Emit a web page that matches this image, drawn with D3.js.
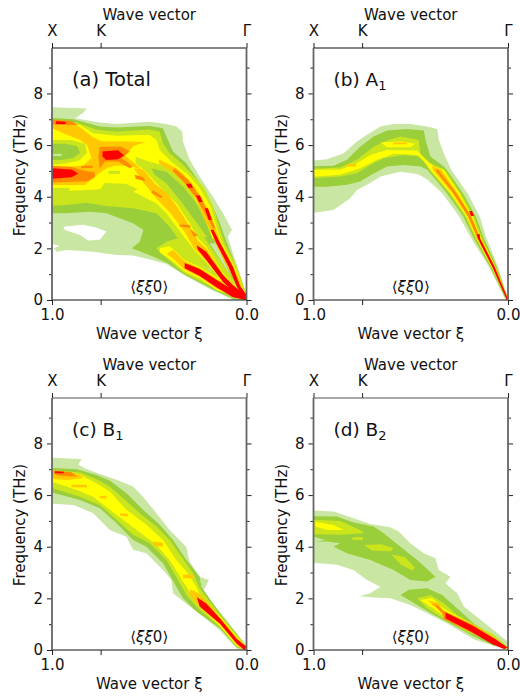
<!DOCTYPE html>
<meta charset="utf-8">
<head>
    <title>Phonon spectral functions</title>
    <script type="text/javascript" src="https://d3js.org/d3.v7.min.js"></script>
    <style>
        body { margin: 0; background: #fff; }
        text { font-family: "DejaVu Sans", sans-serif; fill: #111; }
    </style>
</head>
<body>
<script type="text/javascript">
    // level colours, palest first (white is only used for the hole in panel a)
    var levelColors = ["#ffffff", "#c9e7a2", "#9bce3a", "#cbe51e", "#ffff00", "#ffc800", "#ff8a00", "#ff0000"];

    var majorFreq = [0, 2, 4, 6, 8];
    var minorFreq = [1, 3, 5, 7, 9];
    var topTicks = [1, 0.75, 0];
    var topLabels = ["X", "K", "\u0393"];
    var bottomTicks = [1, 0.75, 0];
    var bottomLabels = ["1.0", "", "0.0"];

    // contour outlines below are [xi, THz]

    // (a) Total
    var aLight = [[[1,7.47],[.82,7.42],[.84,7.25],[.88,7.04],[.754,6.87],[.668,6.82],[.5,6.9],[.412,6.82],[.36,6.72],[.33,6.52],[.327,6.14],[.292,5.43],[.241,4.78],[.173,4],[.12,3.36],[.075,2.71],[.096,2.45],[.053,1.42],[0,.25],[0,0],[.07,.02],[.173,.36],[.31,.92],[.41,1.38],[.5,1.58],[.583,1.72],[.668,1.74],[.788,1.87],[.926,1.94],[.976,1.87],[.99,2],[.96,2.1],[.99,2.15],[1,2.2]]];
    var aHole = [[[.942,2.84],[.839,2.91],[.771,2.8],[.72,2.65],[.754,2.33],[.814,2.3],[.856,2.52],[.933,2.71]]];
    var aGreen = [[[1,7.05],[.89,7],[.754,6.72],[.668,6.68],[.5,6.74],[.43,6.65],[.412,6.33],[.378,5.75],[.31,5.3],[.25,4.65],[.2,4],[.15,3.23],[.1,2.2],[.045,1.16],[0,.13],[0,0],[.07,.05],[.173,.42],[.318,.98],[.412,1.45],[.5,1.74],[.59,2],[.549,2.26],[.53,2.71],[.583,2.97],[.72,3.36],[.805,3.42],[.926,3.36],[1,3.36]]];
    var aLime = [[[1,6.95],[.873,6.87],[.77,6.59],[.668,6.52],[.5,6.6],[.446,6.52],[.43,6.07],[.395,5.68],[.335,5.3],[.284,4.9],[.22,4.39],[.17,3.6],[.135,2.71],[.112,2.2],[.05,1.3],[0,.19],[0,0],[.07,.08],[.173,.48],[.318,1.03],[.378,1.4],[.43,1.74],[.463,2],[.412,2.26],[.353,2.39],[.395,2.84],[.463,3.36],[.583,3.55],[.72,3.64],[.822,3.77],[.925,3.68],[1,3.65]]];
    var aYellow = [
        [[1,6.92],[.855,6.78],[.79,6.46],[.668,6.36],[.5,6.4],[.463,6.2],[.446,5.8],[.378,5.3],[.3,4.85],[.24,4.33],[.185,3.62],[.15,2.71],[.125,2.2],[.062,1.3],[0,.13],[.036,.45],[.105,1.3],[.164,2.2],[.18,2.45],[.222,3.36],[.27,4],[.31,4.52],[.36,4.85],[.43,5.23],[.5,5.35],[.57,5.55],[.57,5.3],[.52,5],[.472,4.6],[.43,4.26],[.36,3.75],[.292,2.97],[.25,2.4],[.207,2.07],[.121,1.06],[.036,.3],[.05,.2],[.121,.65],[.207,1.48],[.258,1.85],[.31,2.33],[.36,2.84],[.412,3.36],[.463,3.75],[.53,4],[.583,4.2],[.685,4.33],[.82,4.26],[1,4.2]],
        [[0,.02],[.155,.39],[.241,.84],[.318,1.1],[.38,1.5],[.446,1.85],[.446,2],[.395,2.09],[.318,1.55],[.241,1.29],[.155,.88],[0,.19]]
    ];
    var aLimeSpots = [
        [[1,6.2],[.9,6.2],[.83,6.05],[.82,5.7],[.86,5.4],[.94,5.28],[1,5.25]],
        [[.73,4.53],[.62,4.5],[.56,4.3],[.6,4.1],[.7,4.08],[.75,4.3]],
        [[1,4.34],[.91,4.34],[.91,4.19],[1,4.19]],
        [[.71,5],[.65,5],[.65,4.88],[.71,4.88]]
    ];
    var aGreenSpots = [
        [[1,6.05],[.93,6.05],[.87,5.95],[.855,5.7],[.89,5.5],[.95,5.42],[1,5.42]],
        [[.489,5.1],[.412,4.97],[.326,4.39],[.258,3.75],[.207,2.97],[.173,2.33],[.19,2.3],[.241,2.84],[.292,3.36],[.344,3.88],[.412,4.52],[.472,4.85]],
        [[.22,2.45],[.15,2.35],[.06,.7]],
        [[.25,1.6],[.13,.85],[.2,1.25]]
    ];
    var aLightSpots = [
        [[.19,2.2],[.155,2.2],[.078,.89]],
        [[.215,1.36],[.17,1.09],[.19,1.15]],
        [[1,5.66],[.95,5.66],[.95,5.58],[1,5.58]]
    ];
    var aGold = [
        [[1,6.98],[.906,6.91],[.848,6.65],[.79,6.3],[.745,6.15],[.6,6.14],[.52,6.12],[.58,5.96],[.625,5.6],[.56,5.2],[.54,5.05],[.6,5.2],[.68,5.2],[.72,5.1],[.76,4.9],[.79,4.7],[.83,4.45],[1,4.45],[1,5.15],[.84,5.2],[.797,5.5],[.82,6],[.856,6.2],[.94,6.45],[1,6.65]],
        [[.53,5.05],[.47,4.5],[.41,4.15],[.36,3.65],[.3,2.95],[.25,2.3],[.207,2],[.121,1.02],[.03,.2],[0,.1],[.03,.1],[.121,.68],[.207,1.52],[.27,2],[.32,2.65],[.39,3.35],[.46,3.9],[.53,4.55],[.58,5.1]],
        [[.45,5.45],[.36,5.1],[.3,4.7],[.24,4.1],[.185,3.35],[.145,2.5],[.13,2.2],[.066,1.29],[0,.1],[.03,.35],[.1,1.29],[.16,2.2],[.175,2.5],[.22,3.2],[.26,3.95],[.33,4.6],[.37,4.9],[.45,5.3]],
        [[0,.05],[.155,.45],[.241,.9],[.318,1.17],[.37,1.55],[.41,1.8],[.378,1.94],[.318,1.5],[.241,1.24],[.155,.83],[0,.15]]
    ];
    var aOrange = [
        [[1,6.98],[.9,6.93],[.87,6.78],[.95,6.78],[1,6.8]],
        [[.754,5.94],[.642,5.94],[.6,5.75],[.642,5.49],[.584,5.17],[.6,5.1],[.66,5.36],[.728,5.36],[.754,5.1],[.762,5.55]],
        [[1,5.2],[.9,5.15],[.83,5],[.78,4.95],[.78,4.75],[.82,4.6],[1,4.55]],
        [[.85,5.2],[.79,5.2],[.79,5.12],[.85,5.1]],
        [[.575,4.85],[.53,4.75],[.52,4.6],[.57,4.7]],
        [[.48,4.25],[.43,4],[.44,3.95],[.49,4.15]],
        [[.345,2.92],[.29,2.9],[.29,2.8],[.345,2.85]],
        [[.29,2.72],[.27,2.45],[.25,2.5],[.28,2.7]],
        [[.37,5.1],[.3,4.65],[.24,4],[.19,3.3],[.16,2.8],[.17,2.75],[.21,3.3],[.26,3.95],[.32,4.55],[.38,5]]
    ];
    var aRed = [
        [[.98,6.92],[.93,6.9],[.93,6.82],[.98,6.82]],
        [[.74,5.75],[.66,5.8],[.63,5.6],[.66,5.45],[.72,5.42],[.74,5.55]],
        [[1,5.1],[.9,5.05],[.865,4.9],[.9,4.75],[1,4.7]],
        [[0,.2],[.032,.52],[.07,1.29],[.135,2.2],[.17,2.72],[.185,2.72],[.155,2.2],[.092,1.29],[.05,.52],[.01,0],[0,0]],
        [[.215,3.55],[.198,3.55],[.178,3.1],[.195,3.1]],
        [[.26,4.05],[.24,4.05],[.225,3.8],[.245,3.8]],
        [[.31,4.5],[.285,4.5],[.275,4.35],[.3,4.35]],
        [[.256,2.12],[.207,1.87],[.121,.97],[.07,.58],[0,.15],[0,0],[.07,.32],[.121,.71],[.207,1.55],[.25,1.95]],
        [[.318,1.43],[.241,1.2],[.155,.78],[.07,.39],[0,.1],[0,0],[.07,.11],[.155,.49],[.241,.93],[.318,1.23]]
    ];

    // (b) A1
    var bLight = [[[1,5.4],[.931,5.45],[.845,5.68],[.777,6.14],[.725,6.4],[.656,6.72],[.588,6.82],[.5,6.82],[.416,6.72],[.364,6.62],[.355,6.2],[.33,5.68],[.292,5.04],[.208,4.13],[.145,3.23],[.111,2.39],[.051,1.29],[0,.06],[0,0],[.012,0],[.099,1.29],[.189,2.39],[.251,3.23],[.338,4.13],[.42,4.7],[.467,4.88],[.553,4.97],[.656,4.78],[.725,4.46],[.777,4.26],[.811,3.94],[.897,3.49],[1,3.38]]];
    var bGreen = [[[1,5.18],[.897,5.2],[.828,5.43],[.76,5.94],[.691,6.33],[.622,6.56],[.519,6.62],[.433,6.56],[.424,6.2],[.399,5.56],[.33,5.17],[.315,5.04],[.232,4.13],[.166,3.23],[.124,2.39],[.058,1.29],[0,.02],[.017,.13],[.092,1.29],[.176,2.39],[.23,3.23],[.314,4.13],[.415,5.04],[.45,5.17],[.536,5.23],[.622,5.17],[.691,4.9],[.76,4.59],[.828,4.46],[.931,4.39],[1,4.39]]];
    var bLime = [[[1,5.08],[.863,5.13],[.777,5.43],[.691,5.94],[.622,6.18],[.553,6.33],[.459,6.2],[.45,5.68],[.399,5.3],[.325,5.04],[.243,4.13],[.175,3.23],[.133,2.39],[.063,1.29],[0,.03],[.007,.06],[.087,1.29],[.167,2.39],[.221,3.23],[.303,4.13],[.405,5.04],[.45,5.56],[.536,5.62],[.639,5.49],[.708,5.23],[.777,4.91],[.863,4.78],[1,4.72]]];
    var bYellow = [
        [[1,5.04],[.863,5.04],[.777,5.3],[.708,5.62],[.622,5.81],[.467,5.79],[.433,5.49],[.381,5.17],[.331,5.04],[.251,4.13],[.183,3.23],[.138,2.39],[.066,1.29],[0,.03],[.03,.4],[.084,1.29],[.162,2.39],[.213,3.23],[.295,4.13],[.399,5.04],[.43,5.35],[.467,5.62],[.588,5.66],[.674,5.43],[.76,5.1],[.863,4.85],[1,4.78]],
        [[.656,6.1],[.55,6.14],[.476,6.05],[.5,5.92],[.62,5.92]]
    ];
    var bGold = [
        [[.39,5.2],[.343,5.04],[.26,4.13],[.188,3.23],[.141,2.39],[.068,1.29],[0,.04],[.01,.1],[.082,1.29],[.159,2.39],[.208,3.23],[.286,4.13],[.387,5.04]],
        [[.59,6.1],[.52,6.1],[.52,6.03],[.59,6.03]],
        [[.83,5.25],[.78,5.27],[.78,5.17],[.83,5.17]]
    ];
    var bOrange = [[[.36,5.04],[.265,4.13],[.19,3.23],[.143,2.39],[.157,2.39],[.205,3.23],[.28,4.13],[.375,5.04]]];
    var bRed = [
        [[.145,2.55],[.144,2.39],[.069,1.29],[0,.04],[.006,0],[.081,1.29],[.156,2.39],[.16,2.55]],
        [[.2,3.45],[.185,3.45],[.175,3.25],[.19,3.25]]
    ];

    // (c) B1
    var cLight = [[[1,7.45],[.848,7.4],[.865,7.17],[.82,7],[.754,6.82],[.668,6.59],[.583,6.33],[.532,5.94],[.463,5.3],[.395,4.65],[.31,4],[.292,3.42],[.241,2.84],[.193,2.71],[.224,2.26],[.136,1.48],[.05,.65],[0,.19],[0,0],[.05,.05],[.136,.76],[.222,1.3],[.292,1.68],[.378,2.2],[.386,2.71],[.429,3.1],[.515,3.75],[.583,3.88],[.617,4.39],[.703,4.65],[.788,5.3],[.89,5.62],[1,5.66]]];
    var cGreen = [[[1,7.05],[.873,7],[.771,6.78],[.703,6.56],[.617,6.07],[.532,5.43],[.446,4.85],[.378,4.26],[.309,3.49],[.241,2.84],[.232,2.45],[.136,1.41],[.05,.62],[0,.1],[0,0],[.05,.1],[.136,.83],[.258,1.49],[.326,2],[.361,2.45],[.429,3.36],[.515,4],[.583,4.26],[.668,4.91],[.754,5.49],[.856,5.81],[1,6.1]]];
    var cLime = [[[1,6.97],[.856,6.87],[.771,6.61],[.703,6.33],[.634,5.88],[.549,5.3],[.463,4.78],[.395,4.26],[.335,3.62],[.275,2.97],[.241,2.39],[.136,1.35],[.05,.58],[0,.13],[0,.02],[.05,.12],[.136,.89],[.25,1.61],[.309,2.13],[.352,2.71],[.412,3.49],[.497,4.13],[.583,4.46],[.668,5.04],[.754,5.62],[.856,5.94],[1,6.27]]];
    var cYellow = [[[1,6.93],[.856,6.78],[.771,6.46],[.703,6.14],[.617,5.43],[.515,4.85],[.429,4.26],[.361,3.49],[.309,3.04],[.258,2.45],[.232,2],[.136,1.31],[.05,.52],[0,.09],[.036,.15],[.05,.16],[.136,.93],[.241,1.68],[.292,2.26],[.326,2.65],[.395,3.49],[.463,4.07],[.532,4.46],[.634,5.04],[.703,5.43],[.788,5.94],[.873,6.2],[1,6.52]]];
    var cGold = [
        [[1,6.95],[.856,6.78],[.84,6.66],[.92,6.58],[1,6.62]],
        [[.48,4.2],[.43,4.15],[.43,4],[.48,4.05]],
        [[.65,5.3],[.61,5.28],[.61,5.17],[.65,5.2]],
        [[.754,5.97],[.72,5.97],[.72,5.87],[.754,5.87]],
        [[.326,2.92],[.275,2.92],[.275,2.78],[.326,2.78]],
        [[.29,2.35],[.245,2.2],[.2,1.85],[.136,1.26],[.05,.47],[0,.1],[.03,.05],[.05,.2],[.136,.98],[.2,1.42],[.25,1.75],[.29,2.1]],
        [[.9,6.4],[.82,6.4],[.82,6.3],[.9,6.3]]
    ];
    var cOrange = [[[.99,6.95],[.9,6.88],[.87,6.72],[.96,6.75],[.99,6.82]]];
    var cRed = [
        [[.985,6.92],[.94,6.9],[.94,6.85],[.985,6.85]],
        [[.255,2.04],[.207,1.8],[.136,1.22],[.05,.43],[0,.13],[.01,0],[.05,.24],[.136,1.02],[.19,1.36],[.241,1.68]]
    ];

    // (d) B2
    var dLight = [[[1,5.4],[.897,5.36],[.794,5.1],[.708,4.88],[.605,4.75],[.562,4.59],[.502,4.13],[.433,3.75],[.373,3.55],[.356,3.1],[.296,2.84],[.321,2.58],[.261,2.2],[.227,1.68],[.107,.97],[0,.32],[0,0],[.038,.09],[.175,.41],[.313,1.03],[.416,1.42],[.502,1.74],[.605,2],[.708,2.04],[.763,2.09],[.708,2.2],[.656,2.45],[.725,2.71],[.794,3.1],[.88,3.3],[1,3.38]]];
    var dGreen = [
        [[1,5.18],[.88,5.17],[.794,4.94],[.691,4.78],[.639,4.52],[.553,4],[.467,3.49],[.373,2.84],[.416,2.65],[.502,2.71],[.588,3.1],[.708,3.49],[.828,3.75],[.897,4],[.863,4.13],[.931,4.2],[.991,4.2],[.94,4.26],[1,4.39]],
        [[.553,2.13],[.51,2.33],[.416,2.39],[.338,2.13],[.261,1.61],[.175,1.03],[0,.13],[.072,.16],[.175,.52],[.296,1.03],[.381,1.36],[.467,1.74]]
    ];
    var dLime = [
        [[1,5.04],[.863,5],[.76,4.65],[.74,4.52],[.863,4.46],[1,4.48]],
        [[.74,4.07],[.65,4.1],[.59,3.95],[.6,3.82],[.7,3.85]],
        [[.6,3.7],[.53,3.6],[.48,3.2],[.49,3.08],[.55,3.3]],
        [[.8,4.37],[.745,4.37],[.745,4.26],[.8,4.26]],
        [[.467,2],[.399,2.13],[.33,1.81],[.261,1.36],[.072,.58],[0,.09],[.072,.26],[.21,.71],[.347,1.29],[.416,1.62]]
    ];
    var dYellow = [
        [[.991,4.97],[.897,4.84],[.845,4.65],[.931,4.65],[.991,4.78]],
        [[.45,1.94],[.39,2],[.33,1.61],[.244,1.23],[.072,.45],[0,.06],[.072,.32],[.21,.8],[.338,1.36],[.399,1.68]]
    ];
    var dGold = [[[.416,1.94],[.356,1.81],[.338,1.55],[.313,1.42],[.175,.97],[0,.04],[.175,.65],[.33,1.29],[.364,1.62]]];
    var dOrange = [
        [[.34,1.55],[.18,.97],[.06,.42],[0,.08],[.02,.04],[.08,.27],[.2,.72],[.33,1.2]],
        [[.4,1.8],[.36,1.72],[.33,1.5],[.34,1.45],[.375,1.7]]
    ];
    var dRed = [[[.321,1.45],[.18,.93],[.07,.44],[.003,.1],[.02,.04],[.08,.22],[.2,.76],[.321,1.22]]];

    // draw order matters, later bands paint over earlier ones
    var panels = [
        { title: "(a) Total", sub: "", left: 52, top: 48, bands: [
            [1, aLight], [0, aHole], [2, aGreen], [3, aLime], [4, aYellow], [3, aLimeSpots],
            [2, aGreenSpots], [1, aLightSpots], [5, aGold], [6, aOrange], [7, aRed]] },
        { title: "(b) A", sub: "1", left: 313.5, top: 48, bands: [
            [1, bLight], [2, bGreen], [3, bLime], [4, bYellow], [5, bGold], [6, bOrange], [7, bRed]] },
        { title: "(c) B", sub: "1", left: 52, top: 398, bands: [
            [1, cLight], [2, cGreen], [3, cLime], [4, cYellow], [5, cGold], [6, cOrange], [7, cRed]] },
        { title: "(d) B", sub: "2", left: 313.5, top: 398, bands: [
            [1, dLight], [2, dGreen], [3, dLime], [4, dYellow], [5, dGold], [6, dOrange], [7, dRed]] }
    ];

    var w = 520, h = 698;
    var plotW = 194.5, plotH = 252;
    var maxFreq = 9.76;

    var svg = d3.select("body").append("svg")
                .attr("width", w)
                .attr("height", h);

    // the source is a slightly soft raster
    svg.append("defs").append("filter").attr("id", "soft")
       .append("feGaussianBlur").attr("stdDeviation", 0.4);

    var x = d3.scaleLinear().domain([1, 0]).range([0, plotW]);
    var y = d3.scaleLinear().domain([0, maxFreq]).range([plotH, 0]);
    var outline = d3.line().x(function(d) { return x(d[0]); }).y(function(d) { return y(d[1]); });

    panels.forEach(function(p) {
        var g = svg.append("g").attr("transform", "translate(" + p.left + "," + p.top + ")");

        var map = g.append("g").attr("filter", "url(#soft)");
        p.bands.forEach(function(b) {
            map.selectAll(null)
               .data(b[1])
               .enter()
               .append("path")
               .attr("d", function(d) { return outline(d) + "Z"; })
               .style("fill", levelColors[b[0]]);
        });

        // major and minor ticks on both sides, all pointing out
        g.append("g").call(d3.axisLeft(y).tickValues(majorFreq).tickSize(5).tickPadding(4));
        g.append("g").call(d3.axisLeft(y).tickValues(minorFreq).tickSize(3).tickFormat(""));
        g.append("g").attr("transform", "translate(" + plotW + ",0)")
         .call(d3.axisRight(y).tickValues(majorFreq).tickSize(5).tickFormat(""));
        g.append("g").attr("transform", "translate(" + plotW + ",0)")
         .call(d3.axisRight(y).tickValues(minorFreq).tickSize(3).tickFormat(""));
        g.append("g").call(d3.axisTop(x).tickValues(topTicks).tickSize(5).tickPadding(7)
         .tickFormat(function(d, i) { return topLabels[i]; }));
        g.append("g").attr("transform", "translate(0," + plotH + ")")
         .call(d3.axisBottom(x).tickValues(bottomTicks).tickSize(5).tickPadding(4)
         .tickFormat(function(d, i) { return bottomLabels[i]; }));

        g.selectAll(".domain").remove();
        g.selectAll(".tick text").style("font-size", "15px").style("font-family", '"DejaVu Sans"').style("fill", "#111");
        g.selectAll(".tick line").style("stroke", "#222");

        // spines, the sides come out greyer and thicker in the source
        g.append("line").attr("x1", 0).attr("x2", plotW).attr("y1", 0).attr("y2", 0).style("stroke", p.top > 100 ? "#555" : "#111").style("stroke-width", 1.1);
        g.append("line").attr("x1", 0).attr("x2", plotW).attr("y1", plotH).attr("y2", plotH).style("stroke", "#111").style("stroke-width", 1.1);
        g.append("line").attr("x1", 0).attr("x2", 0).attr("y1", 0).attr("y2", plotH).style("stroke", "#666").style("stroke-width", 1.8);
        g.append("line").attr("x1", plotW).attr("x2", plotW).attr("y1", 0).attr("y2", plotH).style("stroke", "#666").style("stroke-width", 1.8);

        g.append("text").attr("x", plotW / 2).attr("y", -28).attr("text-anchor", "middle")
         .style("font-size", "15px").text("Wave vector");
        g.append("text").attr("x", plotW / 2).attr("y", plotH + 39).attr("text-anchor", "middle")
         .style("font-size", "15px").text("Wave vector \u03BE");
        g.append("text").attr("transform", "translate(-27," + (plotH / 2 + 1) + ") rotate(-90)").attr("text-anchor", "middle")
         .style("font-size", "15px").text("Frequency (THz)");

        var title = g.append("text").attr("x", 20).attr("y", 38).style("font-size", p.sub ? "18.5px" : "19.5px").text(p.title);
        if (p.sub) {
            title.append("tspan").attr("dy", 4).style("font-size", "13px").text(p.sub);
        }

        var note = g.append("text").attr("x", plotW / 2).attr("y", plotH - 8).attr("text-anchor", "middle").style("font-size", "15px");
        note.append("tspan").text("\u27E8");
        note.append("tspan").style("font-style", "italic").text("\u03BE\u03BE");
        note.append("tspan").text("0\u27E9");
    });
</script>
</body>
</html>
